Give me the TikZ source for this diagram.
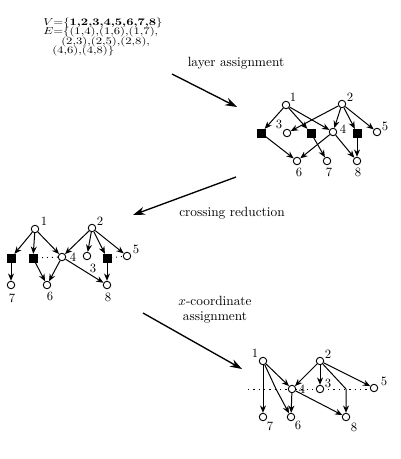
\documentclass[tikz,border=0pt]{standalone}
\usepackage{graphicx}
\usetikzlibrary{arrows.meta}
\begin{document}
\begin{tikzpicture}[x=0.75pt,y=-0.75pt,
  vtx/.style={circle,draw,fill=white,inner sep=0pt,minimum size=5.6pt,line width=0.7pt},
  dum/.style={rectangle,fill=black,draw=black,inner sep=0pt,minimum size=5.8pt},
  lbl/.style={font=\fontsize{9.5}{10}\selectfont,inner sep=0pt},
  edge/.style={line width=0.75pt,-{Stealth[length=5.5pt,width=4.5pt]}},
  dots/.style={line width=0.7pt,dash pattern=on 0.7pt off 3pt},
  stage/.style={line width=1pt,-{Stealth[length=9pt,width=6pt]}},
  stagecap/.style={font=\fontsize{10}{11.25}\selectfont,inner sep=0pt},
  sett/.style={font=\fontsize{10}{10}\selectfont,inner sep=0pt,anchor=base west}
]
\useasboundingbox (0,0) rectangle (400,459);

% ---- input graph text ----
\node[sett] (tv) at (43,26) {\scalebox{0.95}[0.75]{$V$=\{\textbf{1,2,3,4,5,6,7,8}\}}};
\node[sett] (te) at (43,35) {\scalebox{0.95}[0.75]{$E$=\{(1,4),(1,6),(1,7),}};
\node[sett] (te2) at (61,45) {\scalebox{0.95}[0.75]{(2,3),(2,5),(2,8),}};
\node[sett] (te3) at (52,54) {\scalebox{0.95}[0.75]{(4,6),(4,8)\}}};

% ---- stage arrows and captions ----
\coordinate (a1s) at (172,74);  \coordinate (a1e) at (237,107);
\coordinate (a2s) at (236,177); \coordinate (a2e) at (133,215);
\coordinate (a3s) at (143,313); \coordinate (a3e) at (242,369);
\draw[stage] (a1s) -- (a1e);
\draw[stage] (a2s) -- (a2e);
\draw[stage] (a3s) -- (a3e);
\node[stagecap] (c1) at (236,63) {layer assignment};
\node[stagecap] (c2) at (232,213) {crossing reduction};
\node[stagecap,align=center] (c3) at (215,310) {$x$-coordinate\\assignment};

% ---- graph 1: layer assignment ----
\node[vtx] (A1) at (286,105) {};
\node[vtx] (A2) at (342,104) {};
\node[dum] (As1) at (261,133) {};
\node[vtx] (A3) at (287,133) {};
\node[dum] (As2) at (311,133) {};
\node[vtx] (A4) at (333,132) {};
\node[dum] (As3) at (357,133) {};
\node[vtx] (A5) at (377,132) {};
\node[vtx] (A6) at (297,161) {};
\node[vtx] (A7) at (327,161) {};
\node[vtx] (A8) at (357,161) {};
\node[lbl] (lA1) at (293,97) {1};
\node[lbl] (lA2) at (350,97) {2};
\node[lbl] (lA3) at (279,124) {3};
\node[lbl] (lA4) at (343,129) {4};
\node[lbl] (lA5) at (385,126) {5};
\node[lbl] (lA6) at (299,172) {6};
\node[lbl] (lA7) at (329,172) {7};
\node[lbl] (lA8) at (358,172) {8};
\draw[edge] (A1) -- (As1);
\draw[edge] (A1) -- (As2);
\draw[edge] (A1) -- (A4);
\draw[edge] (A2) -- (A3);
\draw[edge] (A2) -- (A4);
\draw[edge] (A2) -- (As3);
\draw[edge] (A2) -- (A5);
\draw[edge] (As1) -- (A6);
\draw[edge] (As2) -- (A7);
\draw[edge] (A4) -- (A6);
\draw[edge] (A4) -- (A8);
\draw[edge] (As3) -- (A8);

% ---- graph 2: crossing reduction ----
\node[vtx] (B1) at (35,229) {};
\node[vtx] (B2) at (92,228) {};
\node[dum] (Bs1) at (11,258) {};
\node[dum] (Bs2) at (33,258) {};
\node[vtx] (B4) at (62,257) {};
\node[vtx] (B3) at (87,256) {};
\node[dum] (Bs3) at (107,258) {};
\node[vtx] (B5) at (127,256) {};
\node[vtx] (B7) at (11,285) {};
\node[vtx] (B6) at (47,285) {};
\node[vtx] (B8) at (107,285) {};
\draw[dots] (Bs2) -- (B4);
\draw[dots] (Bs3) -- (B5);
\node[lbl] (lB1) at (44,221) {1};
\node[lbl] (lB2) at (100,221) {2};
\node[lbl] (lB4) at (73,257) {4};
\node[lbl] (lB3) at (93,268) {3};
\node[lbl] (lB5) at (136,249) {5};
\node[lbl] (lB7) at (12,298) {7};
\node[lbl] (lB6) at (50,296) {6};
\node[lbl] (lB8) at (108,297) {8};
\draw[edge] (B1) -- (Bs1);
\draw[edge] (B1) -- (Bs2);
\draw[edge] (B1) -- (B4);
\draw[edge] (B2) -- (B4);
\draw[edge] (B2) -- (B3);
\draw[edge] (B2) -- (Bs3);
\draw[edge] (B2) -- (B5);
\draw[edge] (Bs1) -- (B7);
\draw[edge] (Bs2) -- (B6);
\draw[edge] (B4) -- (B6);
\draw[edge] (B4) -- (B8);
\draw[edge] (Bs3) -- (B8);

% ---- graph 3: x-coordinate assignment ----
\coordinate (Cl) at (248,389);
\coordinate (Cr) at (372,389);
\draw[dots,dash pattern=on 1pt off 3pt] (Cl) -- (Cr);
\coordinate (Cd2) at (276,389);
\coordinate (Cd3) at (346,389);
\node[vtx] (C1) at (263,361) {};
\node[vtx] (C2) at (320,361) {};
\node[vtx] (C4) at (292,389) {};
\node[vtx] (C3) at (320,389) {};
\node[vtx] (C5) at (374,388) {};
\node[vtx] (C7) at (263,417) {};
\node[vtx] (C6) at (291,417) {};
\node[vtx] (C8) at (346,417) {};
\node[lbl] (lC1) at (255,353) {1};
\node[lbl] (lC2) at (328,354) {2};
\node[lbl] (lC4) at (302,389) {4};
\node[lbl] (lC3) at (328,383) {3};
\node[lbl] (lC5) at (384,381) {5};
\node[lbl] (lC7) at (270,426) {7};
\node[lbl] (lC6) at (298,425) {6};
\node[lbl] (lC8) at (354,427) {8};
\draw[edge] (C1) -- (C7);
\draw[edge] (C1) -- (Cd2) -- (C6);
\draw[edge] (C1) -- (C4);
\draw[edge] (C2) -- (C4);
\draw[edge] (C2) -- (C3);
\draw[edge] (C2) -- (C5);
\draw[edge] (C2) -- (Cd3) -- (C8);
\draw[edge] (C4) -- (C6);
\draw[edge] (C4) -- (C8);
\end{tikzpicture}
\end{document}
